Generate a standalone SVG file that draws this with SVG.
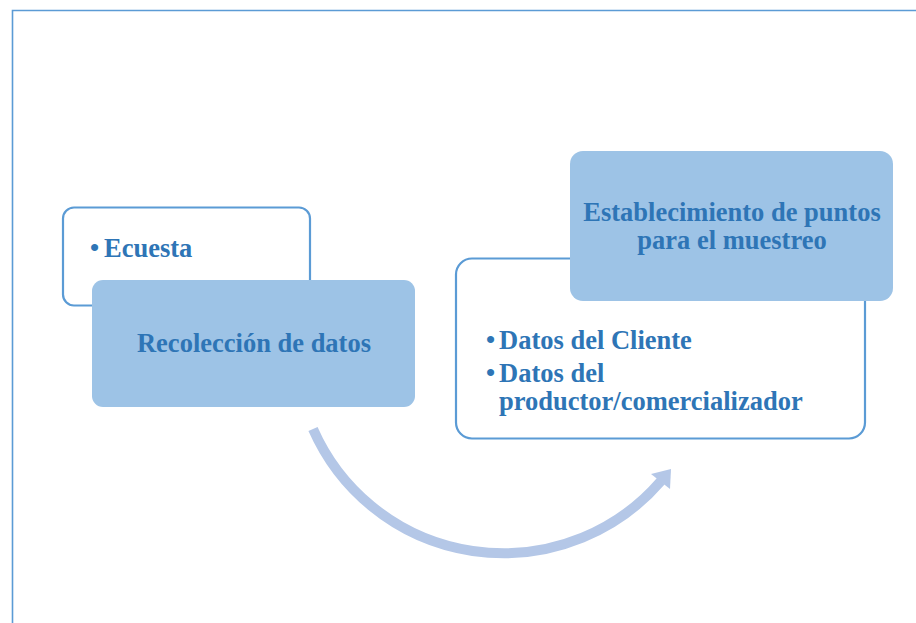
<svg xmlns="http://www.w3.org/2000/svg" width="916" height="623" viewBox="0 0 916 623">
<style>
.frame{fill:none;stroke:#5b9bd5;stroke-width:1.6}
.sub{fill:#ffffff;stroke:#5b9bd5;stroke-width:2.2}
.main{fill:#9dc3e6;stroke:none}
.t{font-family:"Liberation Serif","Times New Roman",serif;font-weight:bold;font-size:26.5px;fill:#2e75b6}
.b{font-family:"Liberation Serif","Times New Roman",serif;font-weight:bold;font-size:26px;fill:#2e75b6}
.arc{fill:none;stroke:#b4c7e7;stroke-width:10}
</style>
<rect width="916" height="623" fill="#ffffff"/>
<path class="frame" d="M12.5,623 V10.5 H916"/>
<g id="node-ecuesta">
<rect class="sub" x="63" y="207.5" width="247" height="98" rx="11"/>
<text class="b" x="90" y="256">•</text>
<text class="t" x="104" y="257">Ecuesta</text>
</g>
<g id="node-recoleccion">
<rect class="main" x="92" y="280" width="323" height="127" rx="11"/>
<text class="t" x="254" y="352" text-anchor="middle">Recolección de datos</text>
</g>
<g id="node-datos">
<rect class="sub" x="456" y="258.5" width="409" height="180" rx="16"/>
<text class="b" x="486" y="348">•</text>
<text class="t" x="499" y="349">Datos del Cliente</text>
<text class="b" x="486" y="381">•</text>
<text class="t" x="499" y="382">Datos del</text>
<text class="t" x="499" y="410">productor/comercializador</text>
</g>
<g id="node-establecimiento">
<rect class="main" x="570" y="151" width="323" height="150" rx="13"/>
<text class="t" x="732" y="221" text-anchor="middle">Establecimiento de puntos</text>
<text class="t" x="732" y="249" text-anchor="middle">para el muestreo</text>
</g>
<g id="connectors">
<path class="arc" d="M313,429 A208,208 0 0 0 661,481"/>
<polygon points="671,469 651,474 670,489" fill="#b4c7e7"/>
</g>
</svg>
